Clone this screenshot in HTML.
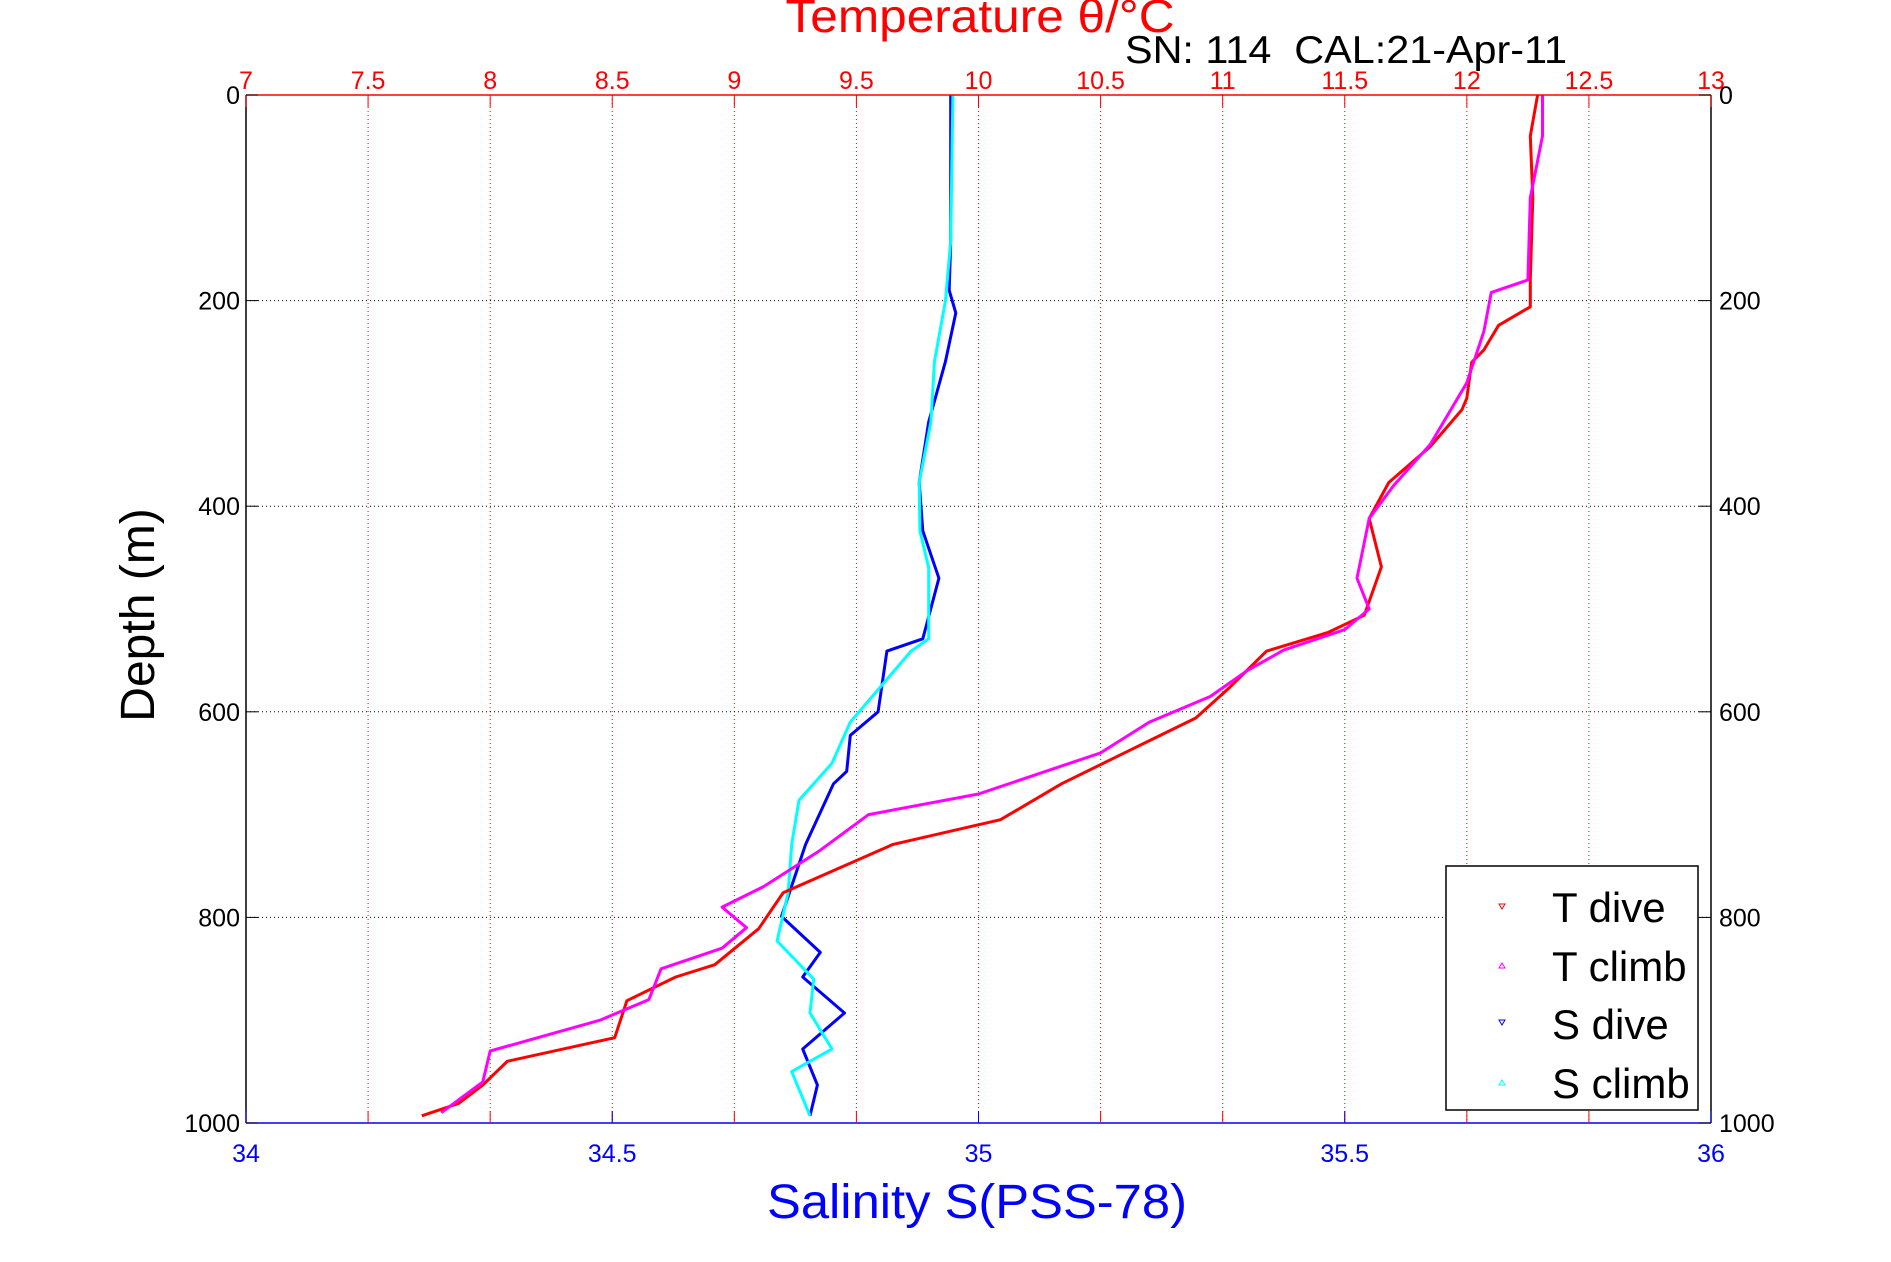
<!DOCTYPE html>
<html><head><meta charset="utf-8"><style>
html,body{margin:0;padding:0;background:#fff;}
svg{display:block;font-family:"Liberation Sans",sans-serif;}
</style></head><body>
<svg id="chart" width="1891" height="1262" viewBox="0 0 1891 1262" xmlns="http://www.w3.org/2000/svg">
<g id="grid"></g>
<g id="series"></g>
<g id="axes"></g>
<text x="980" y="32" font-size="46" fill="#f00" text-anchor="middle" textLength="389" lengthAdjust="spacingAndGlyphs">Temperature θ/°C</text>
<text x="1125" y="63" font-size="39" fill="#000" textLength="442" lengthAdjust="spacingAndGlyphs">SN: 114 &#160;CAL:21-Apr-11</text>
<text transform="translate(154,615) rotate(-90)" font-size="48" fill="#000" text-anchor="middle">Depth (m)</text>
<text x="977" y="1218" font-size="48" fill="#00f" text-anchor="middle" textLength="420" lengthAdjust="spacingAndGlyphs">Salinity S(PSS-78)</text>
<g>
<rect x="1446" y="866" width="252" height="244" fill="#fff" stroke="#000" stroke-width="1.5"/>
<path d="M1499,904 L1505,904 L1502,909 Z" fill="none" stroke="#f00" stroke-width="1"/>
<text x="1552" y="922" font-size="42">T dive</text>
<path d="M1499,968 L1505,968 L1502,963 Z" fill="none" stroke="#f0f" stroke-width="1"/>
<text x="1552" y="981" font-size="42">T climb</text>
<path d="M1499,1020 L1505,1020 L1502,1025 Z" fill="none" stroke="#00f" stroke-width="1"/>
<text x="1552" y="1039" font-size="42">S dive</text>
<path d="M1499,1085 L1505,1085 L1502,1080 Z" fill="none" stroke="#0ff" stroke-width="1"/>
<text x="1552" y="1098" font-size="42">S climb</text>
</g>
</svg>
<script>
// data
const tempTicks = [7, 7.5, 8, 8.5, 9, 9.5, 10, 10.5, 11, 11.5, 12, 12.5, 13];
const tempTickLabels = ["7","7.5","8","8.5","9","9.5","10","10.5","11","11.5","12","12.5","13"];
const salTicks = [34, 34.5, 35, 35.5, 36];
const salTickLabels = ["34","34.5","35","35.5","36"];
const depthTicks = [0, 200, 400, 600, 800, 1000];
const depthTickLabels = ["0","200","400","600","800","1000"];

const tDiveDepth = [0, 40, 100, 180, 206, 224, 248, 260, 295, 306, 342, 377, 412, 459, 506, 523, 541, 576, 606, 635, 670, 705, 729, 776, 811, 846, 858, 881, 917, 940, 963, 981, 993];
const tDiveTemp  = [12.29, 12.26, 12.27, 12.26, 12.26, 12.13, 12.07, 12.02, 12.0, 11.98, 11.85, 11.68, 11.6, 11.65, 11.58, 11.43, 11.18, 11.03, 10.89, 10.64, 10.34, 10.09, 9.65, 9.2, 9.1, 8.92, 8.76, 8.56, 8.51, 8.07, 7.97, 7.87, 7.72];
const tClimbDepth = [0, 40, 100, 180, 192, 230, 280, 300, 340, 380, 412, 470, 500, 520, 540, 560, 585, 610, 640, 680, 700, 735, 770, 790, 810, 830, 850, 880, 900, 930, 960, 990];
const tClimbTemp  = [12.31, 12.31, 12.26, 12.25, 12.1, 12.07, 12.0, 11.95, 11.85, 11.7, 11.6, 11.55, 11.6, 11.5, 11.25, 11.1, 10.95, 10.7, 10.5, 10.0, 9.55, 9.35, 9.12, 8.95, 9.05, 8.95, 8.7, 8.65, 8.45, 8.0, 7.97, 7.8];
const sDiveDepth = [0, 142, 190, 212, 259, 318, 377, 424, 470, 529, 541, 600, 623, 658, 670, 729, 799, 834, 858, 893, 928, 963, 993];
const sDiveSal   = [34.962, 34.962, 34.96, 34.969, 34.955, 34.932, 34.919, 34.924, 34.946, 34.924, 34.875, 34.863, 34.825, 34.82, 34.802, 34.764, 34.731, 34.784, 34.76, 34.817, 34.76, 34.78, 34.77];
const sClimbDepth = [0, 142, 200, 259, 318, 377, 424, 460, 529, 541, 610, 650, 686, 729, 776, 823, 860, 893, 928, 950, 993];
const sClimbSal   = [34.965, 34.962, 34.955, 34.94, 34.935, 34.919, 34.92, 34.932, 34.932, 34.908, 34.825, 34.8, 34.755, 34.745, 34.74, 34.725, 34.775, 34.77, 34.8, 34.745, 34.77];

const L=246, R=1711, T=95, B=1123;
const xT = v => L + (v - 7) / 6 * (R - L);
const xS = v => L + (v - 34) / 2 * (R - L);
const yD = v => T + v / 1000 * (B - T);
const NS = "http://www.w3.org/2000/svg";
function mk(tag, parent, attrs) {
  const e = document.createElementNS(NS, tag);
  for (const k in attrs) e.setAttribute(k, attrs[k]);
  document.getElementById(parent).appendChild(e);
  return e;
}
// grid
tempTicks.forEach((t, i) => {
  if (i === 0 || i === tempTicks.length - 1) return;
  const ln = mk('line', 'grid', {x1: xT(t), x2: xT(t), y1: T, y2: B, stroke: '#f00', 'stroke-width': 1, 'stroke-dasharray': '1,3'});
  
  
});
depthTicks.forEach((d, i) => {
  if (i === 0 || i === depthTicks.length - 1) return;
  const ln = mk('line', 'grid', {x1: L, x2: R, y1: yD(d), y2: yD(d), stroke: '#000', 'stroke-width': 1, 'stroke-dasharray': '1,3'});
  
  
});
// series
function series(xs, ds, fx, color, name) {
  const pts = xs.map((v, i) => fx(v).toFixed(1) + ',' + yD(ds[i]).toFixed(1)).join(' ');
  const pl = mk('polyline', 'series', {points: pts, fill: 'none', stroke: color, 'stroke-width': 3, 'stroke-linejoin': 'round'});
  
  
}
series(sDiveSal, sDiveDepth, xS, '#00f', 's-dive-series');
series(sClimbSal, sClimbDepth, xS, '#0ff', 's-climb-series');
series(tDiveTemp, tDiveDepth, xT, '#f00', 't-dive-series');
series(tClimbTemp, tClimbDepth, xT, '#f0f', 't-climb-series');
// axes
let a;
a = mk('line', 'axes', {x1: L, x2: L, y1: T, y2: B, stroke: '#000', 'stroke-width': 1.5});
 
a = mk('line', 'axes', {x1: R, x2: R, y1: T, y2: B, stroke: '#000', 'stroke-width': 1.5});
 
a = mk('line', 'axes', {x1: L, x2: R, y1: T, y2: T, stroke: '#f00', 'stroke-width': 1.5});
 
a = mk('line', 'axes', {x1: L, x2: R, y1: B, y2: B, stroke: '#00f', 'stroke-width': 1.5});
 
tempTicks.forEach((t, i) => {
  const tk = mk('line', 'axes', {x1: xT(t), x2: xT(t), y1: T, y2: T + 12, stroke: '#f00', 'stroke-width': 1});
   
  const tk2 = mk('line', 'axes', {x1: xT(t), x2: xT(t), y1: B, y2: B - 12, stroke: '#f00', 'stroke-width': 1});
   
  const tx = mk('text', 'axes', {x: xT(t), y: T - 6, 'font-size': 25, fill: '#f00', 'text-anchor': 'middle'});
  tx.textContent = tempTickLabels[i];
   
});
salTicks.forEach((s, i) => {
  const tk = mk('line', 'axes', {x1: xS(s), x2: xS(s), y1: B, y2: B - 12, stroke: '#00f', 'stroke-width': 1});
   
  const tx = mk('text', 'axes', {x: xS(s), y: B + 39, 'font-size': 25, fill: '#00f', 'text-anchor': 'middle'});
  tx.textContent = salTickLabels[i];
   
});
depthTicks.forEach((d, i) => {
  const t1 = mk('line', 'axes', {x1: L, x2: L + 12, y1: yD(d), y2: yD(d), stroke: '#000', 'stroke-width': 1});
   
  const t2 = mk('line', 'axes', {x1: R, x2: R - 12, y1: yD(d), y2: yD(d), stroke: '#000', 'stroke-width': 1});
   
  const lx = mk('text', 'axes', {x: L - 6, y: yD(d) + 9, 'font-size': 25, fill: '#000', 'text-anchor': 'end'});
  lx.textContent = depthTickLabels[i];
   
  const rx = mk('text', 'axes', {x: R + 8, y: yD(d) + 9, 'font-size': 25, fill: '#000'});
  rx.textContent = depthTickLabels[i];
   
});
</script>
</body></html>
